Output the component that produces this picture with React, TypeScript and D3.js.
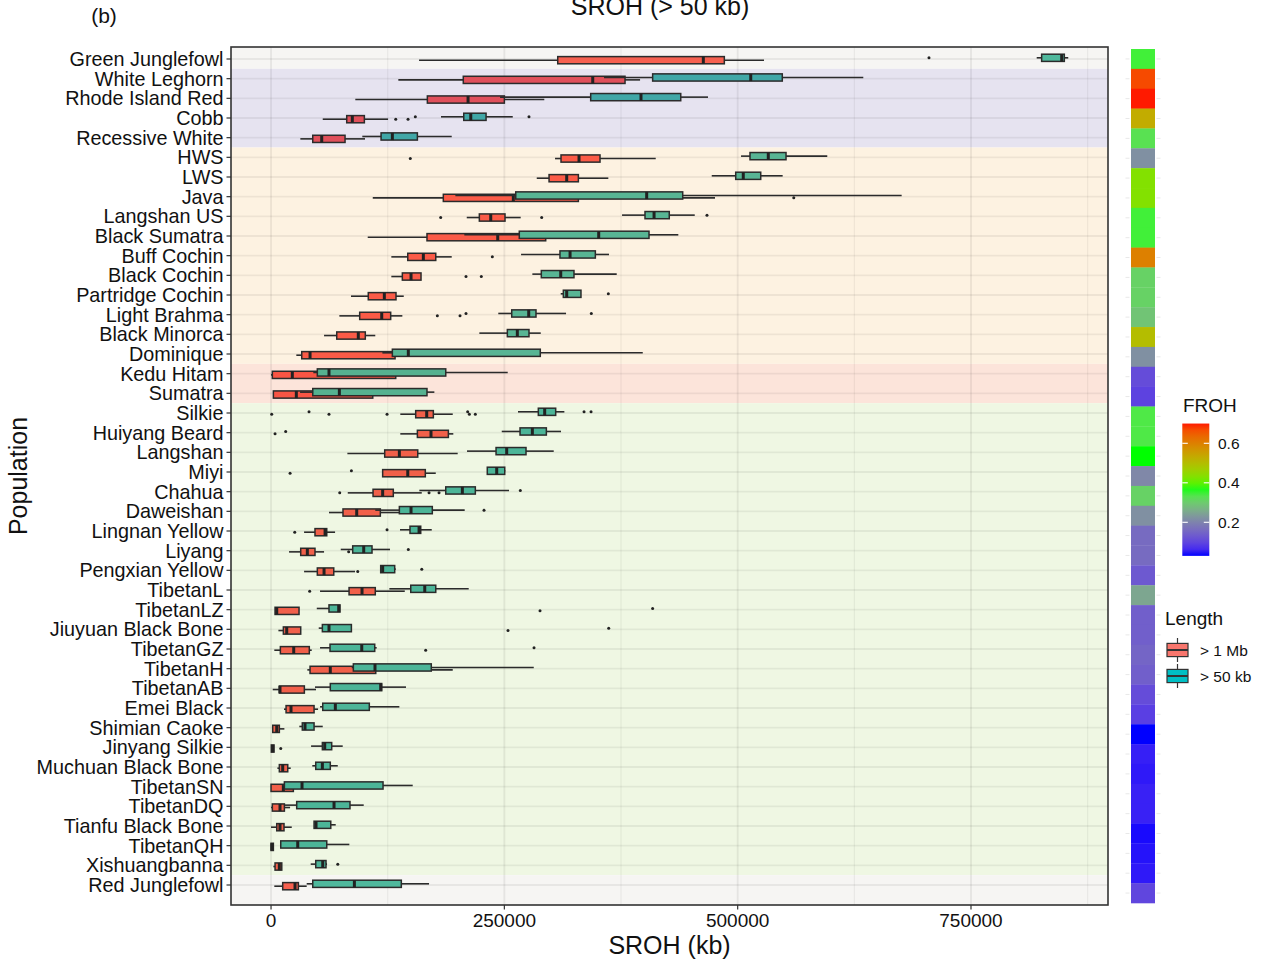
import React from "react";
import * as d3 from "d3";

// ---- data -----------------------------------------------------------------
const populations = [
  "Green Junglefowl", "White Leghorn", "Rhode Island Red", "Cobb", "Recessive White",
  "HWS", "LWS", "Java", "Langshan US", "Black Sumatra", "Buff Cochin", "Black Cochin",
  "Partridge Cochin", "Light Brahma", "Black Minorca", "Dominique", "Kedu Hitam", "Sumatra",
  "Silkie", "Huiyang Beard", "Langshan", "Miyi", "Chahua", "Daweishan", "Lingnan Yellow",
  "Liyang", "Pengxian Yellow", "TibetanL", "TibetanLZ", "Jiuyuan Black Bone", "TibetanGZ",
  "TibetanH", "TibetanAB", "Emei Black", "Shimian Caoke", "Jinyang Silkie",
  "Muchuan Black Bone", "TibetanSN", "TibetanDQ", "Tianfu Black Bone", "TibetanQH",
  "Xishuangbanna", "Red Junglefowl",
];

// band of consecutive populations (group name, number of populations)
const groupNames = ["wild", "commercial", "foreign", "indonesian", "chinese", "wild"];
const groupSizes = [1, 4, 11, 2, 24, 1];

// mean FROH per population
const frohValues = [
  0.35, 0.67, 0.70, 0.53, 0.33, 0.22, 0.43, 0.43, 0.35, 0.35, 0.60, 0.31,
  0.31, 0.29, 0.50, 0.22, 0.11, 0.095, 0.34, 0.34, 0.37, 0.21, 0.31, 0.22,
  0.16, 0.16, 0.13, 0.25, 0.14, 0.14, 0.15, 0.14, 0.11, 0.09, 0.03, 0.05,
  0.045, 0.052, 0.052, 0.035, 0.04, 0.045, 0.10,
];

// SROH (kb) box statistics for ROH > 1 Mb: [lower whisker, Q1, median, Q3, upper whisker]
const longStats = [
  [158600, 307200, 463200, 485700, 528200],
  [136400, 206000, 344700, 379300, 395400],
  [90300, 167500, 211100, 250000, 292800],
  [55400, 81100, 87100, 100000, 125400],
  [31400, 44700, 54300, 79300, 100700],
  [304300, 310700, 330000, 352500, 412200],
  [284700, 297900, 316800, 329300, 361400],
  [109000, 184600, 259600, 329300, 475700],
  [209700, 223200, 235400, 250700, 267500],
  [103600, 167100, 242900, 294300, 352500],
  [128900, 146500, 163200, 176500, 193600],
  [128900, 140700, 150000, 160700, 160700],
  [85700, 104200, 121400, 133900, 142200],
  [73200, 95000, 118600, 128200, 140700],
  [56800, 70400, 93500, 101000, 111700],
  [27100, 32900, 41800, 132900, 159600],
  [0, 1400, 22800, 133600, 170400],
  [2500, 2500, 27100, 109000, 138200],
  [138500, 155000, 166800, 173900, 194700],
  [138500, 156800, 171400, 190000, 195300],
  [81800, 121800, 137500, 157200, 200000],
  [119600, 119600, 146500, 165300, 176500],
  [82200, 109300, 119600, 131000, 161500],
  [62100, 77100, 91800, 117100, 148900],
  [35400, 47100, 57900, 59700, 68600],
  [19300, 31800, 38900, 47100, 56800],
  [35400, 49600, 56800, 67200, 90000],
  [52500, 83600, 97500, 111700, 143300],
  [4300, 4300, 6100, 30000, 30000],
  [7900, 13200, 16800, 31800, 31800],
  [3500, 10000, 24300, 41000, 43600],
  [38900, 41800, 63500, 112200, 194700],
  [1800, 8900, 9600, 35700, 48200],
  [13900, 16100, 21400, 46100, 50400],
  [1800, 1800, 6100, 8900, 14300],
  [300, 300, 1800, 3200, 3200],
  [6800, 8900, 12500, 17900, 21100],
  [0, 0, 13200, 23900, 31100],
  [0, 1400, 9600, 14300, 20400],
  [0, 6100, 9600, 13900, 22200],
  [0, 0, 1000, 2500, 2500],
  [2500, 4300, 8900, 11500, 11500],
  [3500, 12500, 25700, 29300, 38200],
];

const longOutliers = [
  [], [], [], [133600, 146800], [], [149200], [], [560100], [181800, 290000], [],
  [237100], [208900, 225300], [], [178200, 202500], [], [], [], [],
  [700, 62100, 124300, 212500, 218900], [4300], [], [20400], [73600, 169300, 180000], [],
  [25400], [83200], [92900], [41400], [288200], [253900], [165700], [], [], [], [], [10400],
  [], [], [], [], [], [], [],
];

// SROH (kb) box statistics for ROH > 50 kb
const shortStats = [
  [820400, 825700, 847200, 850000, 854200],
  [356800, 408900, 514000, 547800, 634600],
  [245400, 342500, 396400, 439000, 468200],
  [182100, 206500, 214000, 230400, 259000],
  [97800, 117900, 130000, 156800, 193600],
  [503600, 513200, 532800, 551800, 596000],
  [472200, 497900, 506000, 524700, 548200],
  [197500, 262200, 402500, 441100, 675700],
  [376100, 400700, 410400, 426700, 454000],
  [207100, 266000, 351100, 405000, 436400],
  [267900, 309600, 320400, 347500, 362100],
  [280000, 289600, 310400, 324600, 370400],
  [310400, 313200, 316800, 332100, 332100],
  [243500, 257900, 276100, 283900, 316100],
  [223200, 253200, 263900, 276400, 289000],
  [119300, 130000, 147100, 288500, 398300],
  [45300, 49600, 62100, 187200, 253600],
  [31100, 44700, 73200, 167100, 175000],
  [264600, 286400, 293200, 305000, 314300],
  [247200, 266800, 280000, 295000, 310700],
  [210000, 241100, 252500, 273200, 302900],
  [231700, 231700, 241800, 250400, 251000],
  [158900, 187200, 205000, 218900, 255000],
  [111700, 137500, 150000, 172800, 207500],
  [138200, 148900, 158600, 160400, 172200],
  [74700, 87500, 99300, 108200, 127500],
  [117500, 117500, 119600, 132500, 133600],
  [126800, 149700, 164700, 176500, 211800],
  [49000, 62100, 72500, 73900, 73900],
  [51100, 55000, 62100, 86100, 86100],
  [52500, 63200, 97200, 111100, 113200],
  [86500, 88200, 111400, 171700, 281500],
  [47100, 63500, 117500, 118600, 144600],
  [52500, 55400, 68900, 105300, 137500],
  [30300, 33500, 36400, 46100, 55400],
  [42900, 55000, 57500, 65000, 76800],
  [44200, 47900, 55000, 63500, 71500],
  [12100, 14300, 33200, 120000, 151800],
  [14300, 27500, 67500, 84600, 99300],
  [46100, 46100, 48200, 64000, 69300],
  [10400, 10400, 28600, 59700, 83900],
  [42500, 47900, 55400, 58900, 60000],
  [38200, 44700, 89300, 139600, 169300],
];

const shortOutliers = [
  [705000], [], [], [154600, 276400], [], [], [], [], [467100], [], [], [], [361400],
  [208900, 343200], [], [], [], [], [40700, 210700, 335400, 342900], [15700], [], [86100],
  [267100], [228200], [124300], [147100], [161500], [], [408900], [361800], [281800], [], [],
  [], [], [], [], [], [], [], [], [71500], [],
];

const xTicks = [0, 250000, 500000, 750000];
const xMinorTicks = [125000, 375000, 625000, 875000];
const frohTicks = [0.2, 0.4, 0.6];
const frohLimits = [0.03, 0.7];
const lengthLabels = ["> 1 Mb", "> 50 kb"];

// ---- styling ----------------------------------------------------------------
const W = 1261;
const H = 961;
const panel = { left: 231, right: 1108, top: 47, bottom: 905 };
const FONT = "'Liberation Sans', Arial, Helvetica, sans-serif";
const INK = "#2b2b2b";

const bandFill: Record<string, string> = {
  wild: "#f6f5f3",
  commercial: "#e6e3f0",
  foreign: "#fdf2e1",
  indonesian: "#fce4da",
  chinese: "#eff7e3",
};
// box fills as they appear over each band: [> 1 Mb, > 50 kb]
const boxFill: Record<string, [string, string]> = {
  wild: ["#f6604f", "#4fb89c"],
  commercial: ["#e0505b", "#41a7a7"],
  foreign: ["#fb5b47", "#58b594"],
  indonesian: ["#f85544", "#56b190"],
  chinese: ["#f1604a", "#4cb598"],
};
const legendFill = ["#F8766D", "#00BFC4"];

// ---- scales -----------------------------------------------------------------
const x = d3.scaleLinear().domain([-42900, 896800]).range([panel.left, panel.right]);
const y = d3.scalePoint<string>().domain(populations).range([59, 885]);
const stripY = d3.scaleBand<string>().domain(populations).range([49, 903]);

const frohColor = d3
  .scaleLinear<string>()
  .domain([0.03, 0.21, 0.37, 0.6, 0.7])
  .range(["#0000ff", "#8088a8", "#00ff00", "#dd8000", "#ff1a00"])
  .interpolate(d3.interpolateLab)
  .clamp(true);

const legendY = d3.scaleLinear().domain([0.2, 0.6]).range([522.3, 443.3]);

// group of every population
const groupOfRow: string[] = [];
groupSizes.forEach((n, g) => {
  for (let k = 0; k < n; k++) groupOfRow.push(groupNames[g]);
});

const bands = (() => {
  const out: { key: string; y0: number; y1: number }[] = [];
  let start = 0;
  const step = y.step();
  groupSizes.forEach((n, g) => {
    const first = start;
    const last = start + n - 1;
    let y0 = (y(populations[first]) as number) - step / 2;
    let y1 = (y(populations[last]) as number) + step / 2;
    if (first === 0) y0 = panel.top;
    if (last === populations.length - 1) y1 = panel.bottom;
    out.push({ key: groupNames[g], y0, y1 });
    start += n;
  });
  return out;
})();

const BOX_H = 7.2;
const DODGE = 1.2;

function BoxPlot({
  stats,
  outliers,
  cy,
  fill,
}: {
  stats: number[];
  outliers: number[];
  cy: number;
  fill: string;
}) {
  const [lo, q1, med, q3, hi] = stats;
  return (
    <g>
      <line x1={x(lo)} x2={x(q1)} y1={cy} y2={cy} stroke={INK} strokeWidth={1.6} />
      <line x1={x(q3)} x2={x(hi)} y1={cy} y2={cy} stroke={INK} strokeWidth={1.6} />
      <rect
        x={x(q1)}
        y={cy - BOX_H / 2}
        width={Math.max(x(q3) - x(q1), 1)}
        height={BOX_H}
        fill={fill}
        stroke={INK}
        strokeWidth={1.5}
      />
      <line
        x1={x(med)}
        x2={x(med)}
        y1={cy - BOX_H / 2}
        y2={cy + BOX_H / 2}
        stroke="#222"
        strokeWidth={3}
      />
      {outliers.map((v, k) => (
        <circle key={k} cx={x(v)} cy={cy} r={1.5} fill="#222" />
      ))}
    </g>
  );
}

export default function App() {
  const gradStops = d3.range(0, 1.0001, 0.05).map((t) => {
    const v = frohLimits[1] - t * (frohLimits[1] - frohLimits[0]);
    return { offset: t, color: frohColor(v) };
  });
  const barTop = legendY(frohLimits[1]);
  const barBottom = legendY(frohLimits[0]);
  const barX0 = 1182.3;
  const barX1 = 1209.3;

  return (
    <svg
      width={W}
      height={H}
      viewBox={`0 0 ${W} ${H}`}
      style={{ position: "absolute", left: 0, top: 0, background: "#fff" }}
      fontFamily={FONT}
    >
      <defs>
        <linearGradient id="frohGrad" x1="0" y1="0" x2="0" y2="1">
          {gradStops.map((s, i) => (
            <stop key={i} offset={s.offset} stopColor={s.color} />
          ))}
        </linearGradient>
        <clipPath id="panelClip">
          <rect
            x={panel.left}
            y={panel.top}
            width={panel.right - panel.left}
            height={panel.bottom - panel.top}
          />
        </clipPath>
      </defs>

      {/* titles */}
      <text x={104} y={23} fontSize={21} textAnchor="middle" fill="#111">
        (b)
      </text>
      <text x={660} y={14.5} fontSize={25} textAnchor="middle" fill="#111">
        SROH (&gt; 50 kb)
      </text>

      {/* group bands */}
      <g clipPath="url(#panelClip)">
        {bands.map((b, i) => (
          <rect
            key={i}
            x={panel.left}
            y={b.y0}
            width={panel.right - panel.left}
            height={b.y1 - b.y0}
            fill={bandFill[b.key]}
          />
        ))}

        {/* grid */}
        {xMinorTicks.map((t) => (
          <line
            key={"mn" + t}
            x1={x(t)}
            x2={x(t)}
            y1={panel.top}
            y2={panel.bottom}
            stroke="#000"
            strokeOpacity={0.055}
            strokeWidth={1.2}
          />
        ))}
        {xTicks.map((t) => (
          <line
            key={"mj" + t}
            x1={x(t)}
            x2={x(t)}
            y1={panel.top}
            y2={panel.bottom}
            stroke="#000"
            strokeOpacity={0.065}
            strokeWidth={1.9}
          />
        ))}
        {populations.map((p) => (
          <line
            key={"h" + p}
            x1={panel.left}
            x2={panel.right}
            y1={y(p)}
            y2={y(p)}
            stroke="#000"
            strokeOpacity={0.06}
            strokeWidth={1.9}
          />
        ))}

        {/* boxplots */}
        {populations.map((p, i) => {
          const cy = y(p) as number;
          const fills = boxFill[groupOfRow[i]];
          return (
            <g key={"b" + p}>
              <BoxPlot stats={longStats[i]} outliers={longOutliers[i]} cy={cy + DODGE} fill={fills[0]} />
              <BoxPlot stats={shortStats[i]} outliers={shortOutliers[i]} cy={cy - DODGE} fill={fills[1]} />
            </g>
          );
        })}
      </g>

      {/* panel border */}
      <rect
        x={panel.left}
        y={panel.top}
        width={panel.right - panel.left}
        height={panel.bottom - panel.top}
        fill="none"
        stroke="#333"
        strokeWidth={1.6}
      />

      {/* y axis */}
      {populations.map((p) => (
        <g key={"yl" + p}>
          <line x1={panel.left - 4.5} x2={panel.left} y1={y(p)} y2={y(p)} stroke="#333" strokeWidth={1.2} />
          <text
            x={panel.left - 7.5}
            y={y(p)}
            dy="0.36em"
            fontSize={19.8}
            textAnchor="end"
            fill="#111"
          >
            {p}
          </text>
        </g>
      ))}

      {/* x axis */}
      {xTicks.map((t) => (
        <g key={"xt" + t}>
          <line x1={x(t)} x2={x(t)} y1={panel.bottom} y2={panel.bottom + 4.5} stroke="#333" strokeWidth={1.2} />
          <text x={x(t)} y={927} fontSize={19} textAnchor="middle" fill="#111">
            {t}
          </text>
        </g>
      ))}

      <text x={669.5} y={954} fontSize={25} textAnchor="middle" fill="#111">
        SROH (kb)
      </text>
      <text
        transform={`translate(27,476) rotate(-90)`}
        fontSize={25}
        textAnchor="middle"
        fill="#111"
      >
        Population
      </text>

      {/* FROH strip */}
      {populations.map((p, i) => {
        const yy = stripY(p) as number;
        const cy = yy + stripY.bandwidth() / 2;
        return (
          <g key={"s" + p}>
            <rect
              x={1131}
              y={yy}
              width={24}
              height={stripY.bandwidth() + 0.3}
              fill={frohColor(frohValues[i])}
            />
            <line x1={1125.5} x2={1129.5} y1={cy} y2={cy} stroke="#e8e8e8" strokeWidth={1} />
            <line x1={1156.5} x2={1160.5} y1={cy} y2={cy} stroke="#e8e8e8" strokeWidth={1} />
          </g>
        );
      })}

      {/* FROH legend */}
      <text x={1183} y={412} fontSize={19} fill="#111">
        FROH
      </text>
      <rect
        x={barX0}
        y={barTop}
        width={barX1 - barX0}
        height={barBottom - barTop}
        fill="url(#frohGrad)"
      />
      {frohTicks.map((t) => (
        <g key={"ft" + t}>
          <line x1={barX0} x2={barX0 + 5.5} y1={legendY(t)} y2={legendY(t)} stroke="#fff" strokeWidth={1.1} />
          <line x1={barX1 - 5.5} x2={barX1} y1={legendY(t)} y2={legendY(t)} stroke="#fff" strokeWidth={1.1} />
          <text x={1218} y={legendY(t)} dy="0.36em" fontSize={15.5} fill="#111">
            {t.toFixed(1)}
          </text>
        </g>
      ))}

      {/* Length legend */}
      <text x={1165} y={625} fontSize={19} fill="#111">
        Length
      </text>
      {lengthLabels.map((lab, i) => {
        const cy = 650 + i * 26;
        return (
          <g key={lab}>
            <line x1={1177.5} x2={1177.5} y1={cy - 12} y2={cy + 12} stroke="#333" strokeWidth={1.2} />
            <rect
              x={1167}
              y={cy - 6.6}
              width={21}
              height={13.2}
              fill={legendFill[i]}
              stroke="#333"
              strokeWidth={1.2}
            />
            <line x1={1167} x2={1188} y1={cy} y2={cy} stroke="#333" strokeWidth={2} />
            <text x={1200} y={cy} dy="0.36em" fontSize={15.5} fill="#111">
              {lab}
            </text>
          </g>
        );
      })}
    </svg>
  );
}
